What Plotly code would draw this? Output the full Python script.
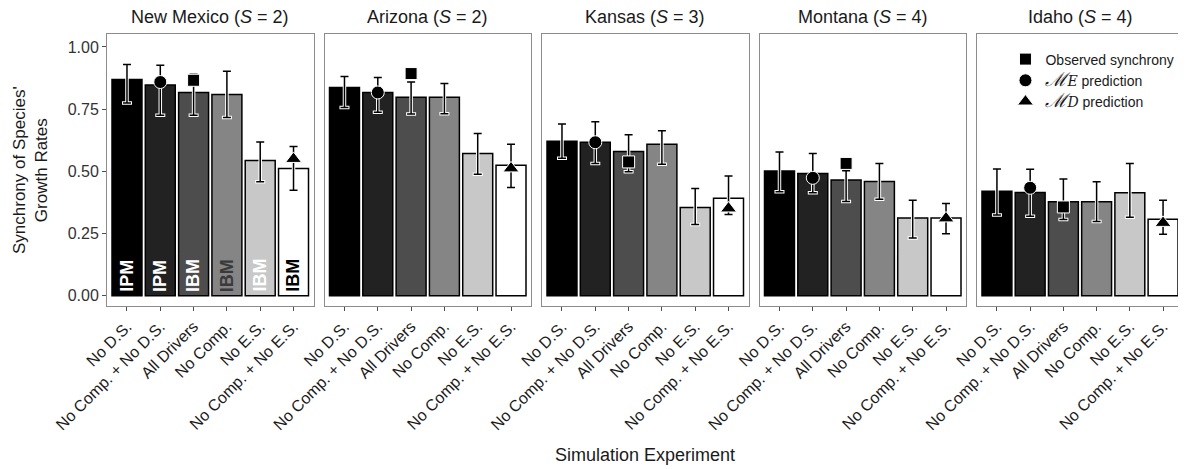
import plotly.graph_objects as go

experiments = ["No D.S.", "No Comp. + No D.S.", "All Drivers", "No Comp.", "No E.S.", "No Comp. + No E.S."]
panel_titles = ["New Mexico (<i>S</i> = 2)", "Arizona (<i>S</i> = 2)", "Kansas (<i>S</i> = 3)",
                "Montana (<i>S</i> = 4)", "Idaho (<i>S</i> = 4)"]
bar_colors = ["#000000", "#222222", "#4d4d4d", "#858585", "#c8c8c8", "#ffffff"]
model_labels = ["IPM", "IPM", "IBM", "IBM", "IBM", "IBM"]
model_label_colors = ["#ffffff", "#ffffff", "#ffffff", "#3a3a3a", "#ffffff", "#000000"]

# synchrony values per site (bars), upper and lower error limits
nm_vals = [0.869, 0.847, 0.817, 0.809, 0.544, 0.512]
nm_hi = [0.929, 0.926, 0.890, 0.902, 0.618, 0.600]
nm_lo = [0.775, 0.726, 0.726, 0.716, 0.458, 0.424]

az_vals = [0.837, 0.817, 0.798, 0.798, 0.572, 0.525]
az_hi = [0.881, 0.877, 0.859, 0.853, 0.652, 0.609]
az_lo = [0.757, 0.738, 0.731, 0.732, 0.488, 0.435]

ks_vals = [0.621, 0.617, 0.580, 0.609, 0.355, 0.392]
ks_hi = [0.690, 0.699, 0.647, 0.663, 0.431, 0.481]
ks_lo = [0.553, 0.532, 0.498, 0.529, 0.287, 0.327]

mt_vals = [0.501, 0.491, 0.465, 0.459, 0.313, 0.313]
mt_hi = [0.578, 0.572, 0.502, 0.532, 0.384, 0.371]
mt_lo = [0.418, 0.414, 0.379, 0.388, 0.232, 0.249]

id_vals = [0.420, 0.415, 0.378, 0.378, 0.414, 0.308]
id_hi = [0.510, 0.509, 0.469, 0.458, 0.532, 0.384]
id_lo = [0.325, 0.320, 0.307, 0.299, 0.316, 0.247]

observed = [0.866, 0.893, 0.538, 0.532, 0.357]
me_pred = [0.859, 0.817, 0.617, 0.474, 0.434]
md_pred = [0.550, 0.512, 0.351, 0.311, 0.293]

sites_vals = [nm_vals, az_vals, ks_vals, mt_vals, id_vals]
sites_hi = [nm_hi, az_hi, ks_hi, mt_hi, id_hi]
sites_lo = [nm_lo, az_lo, ks_lo, mt_lo, id_lo]

FONT = "Liberation Sans, Arial, sans-serif"
# page body has an 8px margin; compensate so the plot lands where the reference has it
W, H = 1178, 461
ml, mr, mt_, mb = 99, 3, 26, 163
pw = W - ml - mr
step = 217.5
width_px = 206.5

fig = go.Figure()
annotations = []

for i in range(5):
    xa = "x" if i == 0 else f"x{i+1}"
    ya = "y" if i == 0 else f"y{i+1}"
    vals, hi, lo = sites_vals[i], sites_hi[i], sites_lo[i]
    fig.add_trace(go.Bar(
        x=experiments, y=vals, width=0.9,
        marker=dict(color=bar_colors, line=dict(color="#000000", width=1.5)),
        xaxis=xa, yaxis=ya, showlegend=False, hoverinfo="skip"))
    plus = [h - v for h, v in zip(hi, vals)]
    minus = [v - l for v, l in zip(vals, lo)]
    fig.add_trace(go.Scatter(
        x=experiments, y=vals, mode="markers", marker=dict(size=1, opacity=0),
        error_y=dict(type="data", symmetric=False, array=plus, arrayminus=minus,
                     color="#ffffff", thickness=3.5, width=5),
        xaxis=xa, yaxis=ya, showlegend=False, hoverinfo="skip"))
    fig.add_trace(go.Scatter(
        x=experiments, y=vals, mode="markers", marker=dict(size=1, opacity=0),
        error_y=dict(type="data", symmetric=False, array=plus, arrayminus=minus,
                     color="#000000", thickness=1.5, width=4),
        xaxis=xa, yaxis=ya, showlegend=False, hoverinfo="skip"))
    show = (i == 4)
    fig.add_trace(go.Scatter(
        x=[experiments[2]], y=[observed[i]], mode="markers", name="Observed synchrony",
        marker=dict(symbol="square", size=12, color="#000000", line=dict(color="#ffffff", width=1)),
        xaxis=xa, yaxis=ya, showlegend=show, legendrank=1))
    fig.add_trace(go.Scatter(
        x=[experiments[1]], y=[me_pred[i]], mode="markers",
        name="<span style='font-family:DejaVu Serif;font-size:19px'><i>ℳ</i></span><span style='font-family:DejaVu Serif'><i>E</i></span> prediction",
        marker=dict(symbol="circle", size=13, color="#000000", line=dict(color="#ffffff", width=1)),
        xaxis=xa, yaxis=ya, showlegend=show, legendrank=2))
    fig.add_trace(go.Scatter(
        x=[experiments[5]], y=[md_pred[i]], mode="markers",
        name="<span style='font-family:DejaVu Serif;font-size:19px'><i>ℳ</i></span><span style='font-family:DejaVu Serif'><i>D</i></span> prediction",
        marker=dict(symbol="triangle-up", size=14, color="#000000", line=dict(color="#ffffff", width=1)),
        xaxis=xa, yaxis=ya, showlegend=show, legendrank=3))

    x0 = (i * step) / pw
    x1 = min((i * step + width_px) / pw, 1.0)
    fig.update_layout(**{
        ("xaxis" if i == 0 else f"xaxis{i+1}"): dict(
            domain=[x0, x1], anchor=ya, type="category",
            categoryorder="array", categoryarray=experiments,
            range=[-0.6, 5.6], showline=True, mirror=True, linecolor="#8c8c8c", linewidth=1,
            ticks="outside", ticklen=4, tickcolor="#4d4d4d", tickangle=-45,
            tickfont=dict(family=FONT, size=16, color="#1a1a1a"), showgrid=False, zeroline=False),
        ("yaxis" if i == 0 else f"yaxis{i+1}"): dict(
            anchor=xa, range=[-0.041, 1.052], showline=True, mirror=True,
            linecolor="#8c8c8c", linewidth=1, showgrid=False, zeroline=False,
            tickvals=[0, 0.25, 0.5, 0.75, 1.0], ticktext=["0.00", "0.25", "0.50", "0.75", "1.00"],
            ticks="outside" if i == 0 else "", ticklen=4, tickcolor="#4d4d4d",
            showticklabels=(i == 0), tickfont=dict(family=FONT, size=16, color="#333333")),
    })
    annotations.append(dict(
        text=panel_titles[i], xref="paper", yref="paper",
        x=(x0 + x1) / 2, xanchor="center", y=1.0, yanchor="middle", yshift=17, showarrow=False,
        font=dict(family=FONT, size=18, color="#1a1a1a")))

for j, lab in enumerate(model_labels):
    annotations.append(dict(
        text=f"<b>{lab}</b>", x=experiments[j], y=0, xref="x", yref="y",
        textangle=-90, yanchor="bottom", yshift=2, showarrow=False,
        font=dict(family=FONT, size=18, color=model_label_colors[j])))

annotations.append(dict(
    text="Simulation Experiment", xref="paper", yref="paper", x=0.5, xanchor="center", y=0,
    yanchor="middle", yshift=-149, showarrow=False, font=dict(family=FONT, size=18, color="#1a1a1a")))
annotations.append(dict(
    text="Synchrony of Species'<br>Growth Rates", xref="paper", yref="paper", x=0, y=0.5,
    xanchor="center", yanchor="middle", xshift=-77, textangle=-90, showarrow=False,
    font=dict(family=FONT, size=17, color="#1a1a1a")))

fig.update_layout(
    width=W, height=H, margin=dict(l=ml, r=mr, t=mt_, b=mb, autoexpand=False),
    paper_bgcolor="#ffffff", plot_bgcolor="#ffffff",
    bargap=0.1, annotations=annotations,
    legend=dict(x=0.835, y=0.965, xanchor="left", yanchor="top",
                bgcolor="rgba(0,0,0,0)", font=dict(family=FONT, size=14, color="#1a1a1a"),
                tracegroupgap=0, itemwidth=30, entrywidth=150),
)

fig.write_html("out.html")
